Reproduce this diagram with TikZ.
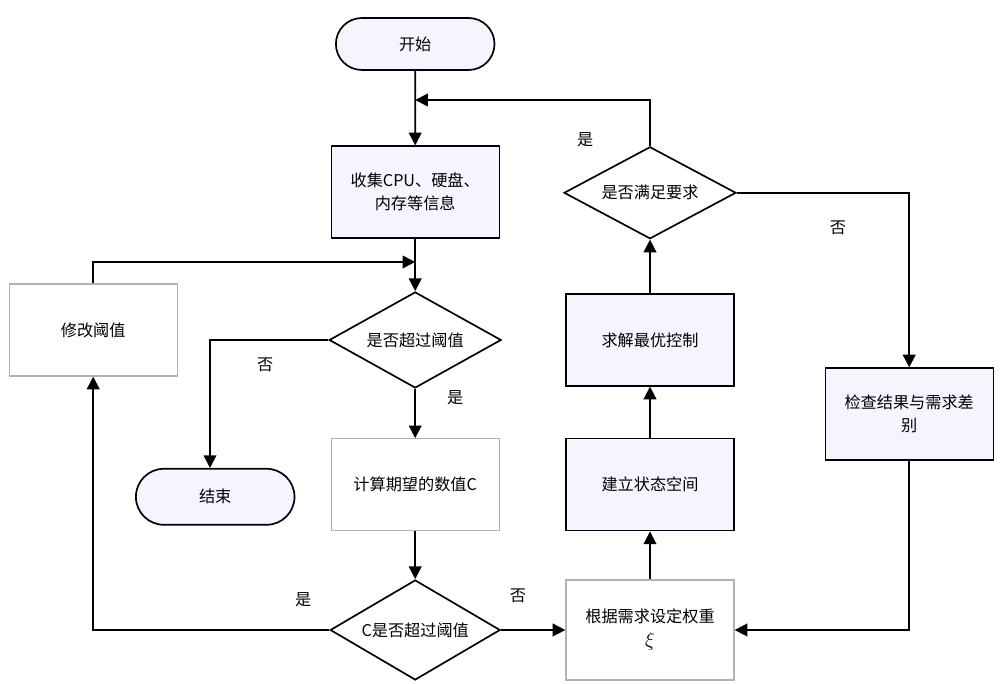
\documentclass[tikz,border=0pt]{standalone}
\usepackage{fontspec}
\setmainfont{Noto Sans CJK SC}
\usetikzlibrary{shapes.geometric,shapes.misc,arrows.meta}
\tikzset{
  line/.style={line width=1.2pt,-{Triangle[length=9pt,width=9pt]}},
  txt/.style={font=\fontsize{11.5}{16}\selectfont},
  term/.style={draw,txt,line width=1.2pt,rounded rectangle,fill=blue!4,minimum width=4.2cm,minimum height=1.3cm},
  box/.style={draw,txt,line width=0.9pt,fill=blue!4,minimum width=4.2cm,minimum height=2.3cm,align=center,text width=3.7cm},
  pale/.style={box,draw=gray!60,fill=white},
  dec/.style={draw,txt,line width=1.2pt,diamond,aspect=1.75,minimum width=4.3cm,inner sep=1pt},
  lbl/.style={txt}
}
\begin{document}
\begin{tikzpicture}
\useasboundingbox (0,0) rectangle (25,17.1);
% nodes
\node[term] (start) at (10.38,16.0) {开始};
\node[box] (collect) at (10.38,12.3) {收集CPU、硬盘、\\内存等信息};
\node[dec,minimum height=2.4cm] (check1) at (10.38,8.6) {是否超过阈值};
\node[term,minimum height=1.4cm] (stop) at (5.38,4.68) {结束};
\node[pale] (calc) at (10.38,4.98) {计算期望的数值C};
\node[dec,minimum height=2.5cm,minimum width=4.25cm] (check2) at (10.38,1.35) {C是否超过阈值};
\node[pale] (modify) at (2.33,8.85) {修改阈值};
\node[pale,minimum height=2.5cm] (weight) at (16.25,1.35) {根据需求设定权重\\[1pt]{\Large$\xi$}};
\node[box] (state) at (16.25,4.98) {建立状态空间};
\node[box] (solve) at (16.25,8.6) {求解最优控制};
\node[dec,minimum height=2.3cm] (check3) at (16.25,12.28) {是否满足要求};
\node[box] (diff) at (22.73,6.75) {检查结果与需求差\\别};
% connectors
\coordinate (top) at (10.38,14.6);
\coordinate (mid) at (10.38,10.55);
\draw[line] (start) -- (collect);
\draw[line] (check3.north) |- (top);
\draw[line] (collect) -- (check1);
\draw[line] (modify.north) |- (mid);
\draw[line] (check1.west) -| (stop.north -| 5.25,0);
\draw[line] (check1) -- (calc);
\draw[line] (calc) -- (check2);
\draw[line] (check2.west) -| (modify.south);
\draw[line] (check2.east) -- (weight.west);
\draw[line] (weight) -- (state);
\draw[line] (state) -- (solve);
\draw[line] (solve) -- (check3);
\draw[line] (check3.east) -| (diff.north);
\draw[line] (diff.south) |- (weight.east);
% labels
\node[lbl] at (14.63,13.6) {是};
\node[lbl] at (6.63,7.98) {否};
\node[lbl] at (11.38,7.15) {是};
\node[lbl] at (7.58,2.1) {是};
\node[lbl] at (12.95,2.2) {否};
\node[lbl] at (20.95,11.4) {否};
\end{tikzpicture}
\end{document}
